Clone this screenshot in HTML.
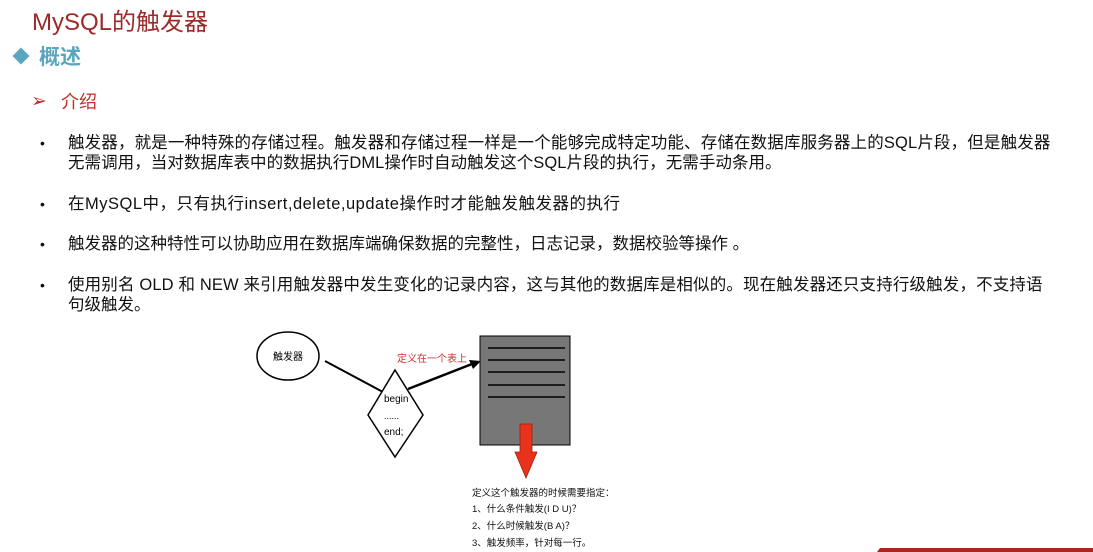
<!DOCTYPE html>
<html><head><meta charset="utf-8"><style>
body{margin:0;width:1093px;height:552px;background:#fff;position:relative;overflow:hidden;font-family:"Liberation Sans","Noto Sans CJK SC",sans-serif;}
.a{position:absolute;white-space:nowrap;}
.t{font-size:16.5px;color:#111;line-height:20px;}
.b{font-size:14px;}
</style></head><body>
<div class="a" style="left:32px;top:7px;font-size:24px;color:#9b2b2b;line-height:32px;">MySQL的触发器</div>
<div class="a" style="left:15px;top:50px;width:12px;height:12px;background:#5aa6c0;transform:rotate(45deg);"></div>
<div class="a" style="left:39px;top:44px;font-size:21px;font-weight:bold;color:#5aa6c0;line-height:28px;">概述</div>
<div class="a" style="left:31px;top:91px;font-size:19px;color:#c0302a;line-height:22px;">➢</div>
<div class="a" style="left:61px;top:90px;font-size:18px;color:#c0302a;line-height:24px;">介绍</div>

<div class="a t b" style="left:40px;top:133px;">•</div>
<div class="a t" style="left:68px;top:133px;letter-spacing:0.15px;">触发器，就是一种特殊的存储过程。触发器和存储过程一样是一个能够完成特定功能、存储在数据库服务器上的SQL片段，但是触发器</div>
<div class="a t" style="left:68px;top:153px;letter-spacing:0.05px;">无需调用，当对数据库表中的数据执行DML操作时自动触发这个SQL片段的执行，无需手动条用。</div>
<div class="a t b" style="left:40px;top:194px;">•</div>
<div class="a t" style="left:68px;top:194px;letter-spacing:0.5px;">在MySQL中，只有执行insert,delete,update操作时才能触发触发器的执行</div>
<div class="a t b" style="left:40px;top:234px;">•</div>
<div class="a t" style="left:68px;top:234px;">触发器的这种特性可以协助应用在数据库端确保数据的完整性，日志记录，数据校验等操作 。</div>
<div class="a t b" style="left:40px;top:275px;">•</div>
<div class="a t" style="left:68px;top:275px;letter-spacing:0.15px;">使用别名 OLD 和 NEW 来引用触发器中发生变化的记录内容，这与其他的数据库是相似的。现在触发器还只支持行级触发，不支持语</div>
<div class="a t" style="left:68px;top:295px;">句级触发。</div>

<svg class="a" style="left:0;top:0" width="1093" height="552">
<ellipse cx="288" cy="356" rx="31" ry="24" fill="#fff" stroke="#000" stroke-width="1.5"/>
<text x="288" y="360" font-size="10" text-anchor="middle" font-family="Liberation Sans,Noto Sans CJK SC,sans-serif">触发器</text>
<line x1="325" y1="361" x2="383" y2="392" stroke="#000" stroke-width="2"/>
<polygon points="395,370 423,415 395,457 368,415" fill="#fff" stroke="#000" stroke-width="1.5"/>
<text x="384" y="402" font-size="10" font-family="Liberation Sans,sans-serif">begin</text>
<text x="384" y="419" font-size="9" font-family="Liberation Sans,sans-serif">......</text>
<text x="384" y="435" font-size="10" font-family="Liberation Sans,sans-serif">end;</text>
<line x1="408" y1="389" x2="472" y2="364" stroke="#000" stroke-width="2.5"/>
<polygon points="481,361 469,360 473,369" fill="#000"/>
<text x="397" y="362" font-size="10" fill="#d03030" font-family="Liberation Sans,Noto Sans CJK SC,sans-serif">定义在一个表上</text>
<rect x="480" y="336" width="90" height="109" fill="#777" stroke="#000" stroke-width="1"/>
<g stroke="#000" stroke-width="1.5"><line x1="488" y1="348" x2="565" y2="348"/><line x1="488" y1="360" x2="565" y2="360"/><line x1="488" y1="372" x2="565" y2="372"/><line x1="488" y1="385" x2="565" y2="385"/><line x1="488" y1="397" x2="565" y2="397"/></g>
<polygon points="520,424 532,424 532,452 537,452 526,478 515,452 520,452" fill="#e8321c" stroke="#a02010" stroke-width="0.8"/>
<g font-size="9.5" font-family="Liberation Sans,Noto Sans CJK SC,sans-serif" fill="#111">
<text x="472" y="496">定义这个触发器的时候需要指定：</text>
<text x="472" y="512">1、什么条件触发(I D U)？</text>
<text x="472" y="529">2、什么时候触发(B A)？</text>
<text x="472" y="546">3、触发频率，针对每一行。</text>
</g>
<polygon points="880,548 1093,548 1093,552 877,552" fill="#a82820"/>
</svg>
</body></html>
